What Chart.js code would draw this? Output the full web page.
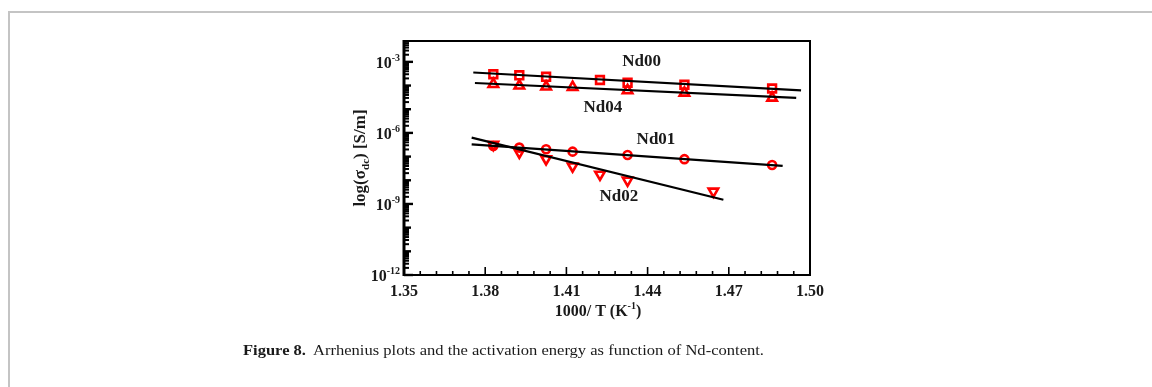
<!DOCTYPE html>
<html><head><meta charset="utf-8">
<script src="https://cdn.jsdelivr.net/npm/chart.js@4.4.1/dist/chart.umd.min.js"></script>
<style>
html,body{margin:0;padding:0;background:#fff;width:1152px;height:387px;overflow:hidden;}
#wrap{position:relative;width:1152px;height:387px;}
#frame{position:absolute;left:8px;top:11px;width:1200px;height:400px;border-top:2px solid #c4c4c4;border-left:2px solid #c4c4c4;}
canvas{position:absolute;left:0;top:0;}
.cap{position:absolute;top:343px;font-family:'Liberation Serif',serif;font-size:14px;line-height:16px;white-space:nowrap;color:#1a1a1a;transform-origin:0 0;}
</style></head>
<body><div id="wrap"><div id="frame"></div><canvas id="c" width="1152" height="387"></canvas>
<div class="cap" id="capB" style="left:243px;font-weight:bold">Figure 8.</div>
<div class="cap" id="capT" style="left:313px">Arrhenius plots and the activation energy as function of Nd-content.</div>
</div>
<script>
// ---- data (1000/T in K^-1, sigma_dc in S/m) ----
const xNd00 = [1.383, 1.3926, 1.4025, 1.4224, 1.4326, 1.4536, 1.486];
const yNd00 = [2.99e-4, 2.71e-4, 2.34e-4, 1.71e-4, 1.32e-4, 1.08e-4, 7.5e-5];
const xNd04 = [1.383, 1.3926, 1.4025, 1.4123, 1.4326, 1.4536, 1.486];
const yNd04 = [1.14e-4, 9.8e-5, 8.9e-5, 8.5e-5, 6.2e-5, 4.9e-5, 3.0e-5];
const xNd01 = [1.383, 1.3926, 1.4025, 1.4123, 1.4326, 1.4536, 1.486];
const yNd01 = [2.79e-7, 2.40e-7, 2.04e-7, 1.62e-7, 1.17e-7, 7.8e-8, 4.4e-8];
const xNd02 = [1.383, 1.3926, 1.4025, 1.4123, 1.4224, 1.4326, 1.4643];
const yNd02 = [3.2e-7, 1.52e-7, 7.9e-8, 3.9e-8, 1.76e-8, 9.9e-9, 3.4e-9];
// linear (Arrhenius) fits: endpoints
const fitNd00X = [1.3756, 1.4967], fitNd00Y = [3.56e-4, 6.25e-5];
const fitNd04X = [1.3762, 1.4949], fitNd04Y = [1.28e-4, 3.0e-5];
const fitNd01X = [1.375, 1.4899],  fitNd01Y = [3.29e-7, 4.04e-8];
const fitNd02X = [1.375, 1.468],   fitNd02Y = [6.3e-7, 1.51e-9];
// series labels
const seriesNames = ['Nd00', 'Nd04', 'Nd01', 'Nd02'];
const seriesLabelX = [1.4378, 1.4235, 1.4431, 1.4294];
const seriesLabelY = [1.0e-3, 1.17e-5, 5.0e-7, 1.95e-9];
// axes
const xTickValues = [1.35, 1.38, 1.41, 1.44, 1.47, 1.50];
const xTickLabels = ['1.35', '1.38', '1.41', '1.44', '1.47', '1.50'];
const xMinorPerMajor = 5;
const yLabelExponents = [-3, -6, -9, -12];
const yDecadeExponents = [-12, -11, -10, -9, -8, -7, -6, -5, -4, -3];
const xTitle = '1000/ T (K', xTitleSup = '-1', xTitleEnd = ')';

const pts = (xs, ys) => xs.map((x, i) => ({x: x, y: ys[i]}));
const RED = '#ff0000';
const SERIF = "'Liberation Serif', 'Times New Roman', serif";

function markerSet(label, xs, ys, style, r, rot) {
  return {label, data: pts(xs, ys), showLine: false, pointStyle: style, pointRadius: r,
    pointRotation: rot || 0, pointBorderColor: RED, pointBackgroundColor: 'rgba(0,0,0,0)',
    pointBorderWidth: 2.6, order: 2};
}
function fitSet(label, xs, ys) {
  return {label, data: pts(xs, ys), showLine: true, pointRadius: 0, borderColor: '#000',
    borderWidth: 2.2, order: 0};
}

const axesPlugin = {
  id: 'paperAxes',
  afterDraw(chart) {
    const ctx = chart.ctx, a = chart.chartArea;
    const xs = chart.scales.x, ys = chart.scales.y;
    ctx.save();
    ctx.strokeStyle = '#000'; ctx.fillStyle = '#000';
    // frame
    ctx.lineWidth = 2;
    ctx.strokeRect(a.left, a.top, a.right - a.left, a.bottom - a.top);
    ctx.lineWidth = 3;
    ctx.beginPath(); ctx.moveTo(a.left, a.top - 1); ctx.lineTo(a.left, a.bottom + 1); ctx.stroke();
    // x ticks (inward)
    ctx.lineWidth = 1.6;
    for (let i = 0; i < xTickValues.length; i++) {
      const px = xs.getPixelForValue(xTickValues[i]);
      ctx.beginPath(); ctx.moveTo(px, a.bottom); ctx.lineTo(px, a.bottom - 8); ctx.stroke();
      if (i < xTickValues.length - 1) {
        const step = (xTickValues[i + 1] - xTickValues[i]) / xMinorPerMajor;
        for (let k = 1; k < xMinorPerMajor; k++) {
          const mx = xs.getPixelForValue(xTickValues[i] + k * step);
          ctx.beginPath(); ctx.moveTo(mx, a.bottom); ctx.lineTo(mx, a.bottom - 4); ctx.stroke();
        }
      }
    }
    // y ticks (inward)
    for (const e of yDecadeExponents) {
      const py = ys.getPixelForValue(Math.pow(10, e));
      const major = yLabelExponents.includes(e);
      ctx.lineWidth = 2.4;
      ctx.beginPath(); ctx.moveTo(a.left, py); ctx.lineTo(a.left + (major ? 9 : 7), py); ctx.stroke();
      ctx.lineWidth = 2;
      for (let m = 2; m <= 9; m++) {
        const v = m * Math.pow(10, e);
        if (v > ys.max) break;
        const my = ys.getPixelForValue(v);
        ctx.beginPath(); ctx.moveTo(a.left, my); ctx.lineTo(a.left + 5, my); ctx.stroke();
      }
    }
    // x tick labels
    ctx.font = 'bold 16px ' + SERIF;
    ctx.textAlign = 'center'; ctx.textBaseline = 'middle';
    ctx.fillStyle = '#1a1a1a';
    xTickValues.forEach((v, i) => ctx.fillText(xTickLabels[i], xs.getPixelForValue(v), a.bottom + 17));
    // y tick labels 10^e
    ctx.textBaseline = 'alphabetic';
    for (const e of yLabelExponents) {
      const py = ys.getPixelForValue(Math.pow(10, e));
      ctx.font = 'bold 10px ' + SERIF;
      const sup = '-' + Math.abs(e);
      const ws = ctx.measureText(sup).width;
      ctx.font = 'bold 16px ' + SERIF;
      const wb = ctx.measureText('10').width;
      const right = a.left - 4;
      ctx.textAlign = 'left';
      ctx.fillText('10', right - ws - wb, py + 6);
      ctx.font = 'bold 10px ' + SERIF;
      ctx.fillText(sup, right - ws, py - 1);
    }
    // x title
    ctx.font = 'bold 16px ' + SERIF;
    const w1 = ctx.measureText(xTitle).width;
    ctx.font = 'bold 10px ' + SERIF;
    const w2 = ctx.measureText(xTitleSup).width;
    ctx.font = 'bold 16px ' + SERIF;
    const w3 = ctx.measureText(xTitleEnd).width;
    const cx = 598, by = 316;
    let sx = cx - (w1 + w2 + w3) / 2;
    ctx.textAlign = 'left';
    ctx.fillText(xTitle, sx, by);
    ctx.font = 'bold 10px ' + SERIF;
    ctx.fillText(xTitleSup, sx + w1, by - 7);
    ctx.font = 'bold 16px ' + SERIF;
    ctx.fillText(xTitleEnd, sx + w1 + w2, by);
    // y title (rotated)
    ctx.save();
    ctx.translate(359, (a.top + a.bottom) / 2);
    ctx.rotate(-Math.PI / 2);
    const parts = [['log(σ', 17, 0], ['dc', 11, 4], [') [S/m]', 17, 0]];
    let tw = 0;
    parts.forEach(p => { ctx.font = 'bold ' + p[1] + 'px ' + SERIF; p.push(ctx.measureText(p[0]).width); tw += p[3]; });
    let tx = -tw / 2;
    parts.forEach(p => { ctx.font = 'bold ' + p[1] + 'px ' + SERIF; ctx.fillText(p[0], tx, 6 + p[2]); tx += p[3]; });
    ctx.restore();
    // series labels
    ctx.font = 'bold 17px ' + SERIF;
    ctx.textAlign = 'center'; ctx.textBaseline = 'middle';
    seriesNames.forEach((n, i) => ctx.fillText(n, xs.getPixelForValue(seriesLabelX[i]), ys.getPixelForValue(seriesLabelY[i])));
    ctx.restore();
  }
};

new Chart(document.getElementById('c'), {
  type: 'scatter',
  data: {datasets: [
    fitSet('Nd00 fit', fitNd00X, fitNd00Y),
    fitSet('Nd04 fit', fitNd04X, fitNd04Y),
    fitSet('Nd01 fit', fitNd01X, fitNd01Y),
    fitSet('Nd02 fit', fitNd02X, fitNd02Y),
    markerSet('Nd00', xNd00, yNd00, 'rect', 5.5),
    markerSet('Nd04', xNd04, yNd04, 'triangle', 5.5),
    markerSet('Nd01', xNd01, yNd01, 'circle', 4),
    markerSet('Nd02', xNd02, yNd02, 'triangle', 5.5, 180)
  ]},
  options: {
    responsive: false, animation: false, events: [],
    layout: {padding: {left: 404, right: 342, top: 41, bottom: 112}},
    plugins: {legend: {display: false}, tooltip: {enabled: false}},
    scales: {
      x: {type: 'linear', min: 1.35, max: 1.50, display: false},
      y: {type: 'logarithmic', min: 1e-12, max: 7.6e-3, display: false}
    }
  },
  plugins: [axesPlugin]
});

// fit caption widths to the reference
function fitWidth(id, target) {
  const el = document.getElementById(id);
  const w = el.getBoundingClientRect().width;
  el.style.transform = 'scaleX(' + (target / w) + ')';
}
fitWidth('capB', 63);
fitWidth('capT', 451);
</script>
</body></html>
